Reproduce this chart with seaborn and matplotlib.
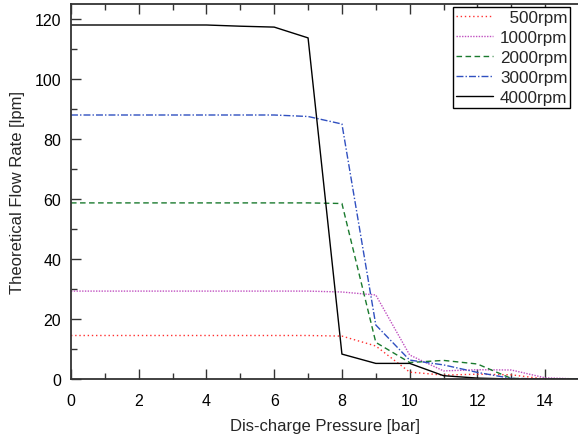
import matplotlib
matplotlib.use("Agg")
import matplotlib.pyplot as plt
import seaborn as sns
import pandas as pd
from matplotlib.ticker import MultipleLocator

pressure = [0, 1, 2, 3, 4, 5, 6, 7, 8, 9, 10, 11, 12, 13, 14, 15]
flow_500 = [14.5, 14.5, 14.5, 14.5, 14.5, 14.5, 14.5, 14.5, 14.3, 11.0, 2.3, 1.3, 1.6, 1.4, 0.0, 0.0]
flow_1000 = [29.3, 29.3, 29.3, 29.3, 29.3, 29.3, 29.3, 29.3, 29.0, 28.0, 8.0, 2.7, 3.1, 3.0, 0.4, 0.0]
flow_2000 = [58.7, 58.7, 58.7, 58.7, 58.7, 58.7, 58.7, 58.7, 58.5, 12.2, 5.5, 6.2, 5.0, 0.2, 0.0, 0.0]
flow_3000 = [88.0, 88.0, 88.0, 88.0, 88.0, 88.0, 88.0, 87.5, 85.0, 18.0, 6.3, 4.7, 2.2, 0.2, 0.0, 0.0]
flow_4000 = [118.0, 118.0, 118.0, 118.0, 118.0, 117.6, 117.3, 113.7, 8.3, 5.2, 5.2, 1.1, 0.3, 0.0, 0.0, 0.0]

labels = ["500rpm", "1000rpm", "2000rpm", "3000rpm", "4000rpm"]
series = [flow_500, flow_1000, flow_2000, flow_3000, flow_4000]
colors = ["#ff3030", "#c050c0", "#1a7a2e", "#3050c0", "#000000"]
styles = [(0, (1, 2)), (0, (1, 1)), (0, (4, 2.5)), (0, (5, 1.5, 1, 1.5)), "-"]
pads = ["  ", "", "", "", ""]

sns.set_theme(style="ticks")
plt.rcParams["font.family"] = ["Liberation Sans", "DejaVu Sans"]
plt.rcParams["font.size"] = 11

fig = plt.figure(figsize=(5.78, 4.39), dpi=100)
ax = fig.add_axes([71 / 578, 1 - 380 / 439, (579 - 71) / 578, (380 - 5) / 439])

for lab, vals, col, ls, pad in zip(labels, series, colors, styles, pads):
    df = pd.DataFrame({"p": pressure, "q": vals})
    sns.lineplot(data=df, x="p", y="q", ax=ax, color=col, linestyle=ls,
                 linewidth=1.0, label=pad + lab)

ax.set_xlim(0, 15)
ax.set_ylim(0, 125)
ax.xaxis.set_major_locator(MultipleLocator(2))
ax.xaxis.set_minor_locator(MultipleLocator(1))
ax.yaxis.set_major_locator(MultipleLocator(20))
ax.yaxis.set_minor_locator(MultipleLocator(10))
ax.tick_params(which="both", direction="in", top=True, right=False, colors="#333333",
               labelcolor="black", labelsize=11.5, width=1.0)
ax.tick_params(which="major", length=7)
ax.tick_params(which="minor", length=4)
ax.tick_params(axis="x", which="major", pad=10)
ax.tick_params(axis="y", which="major", pad=7)
for s in ax.spines.values():
    s.set_linewidth(1.3)
    s.set_color("#333333")
ax.spines["right"].set_visible(False)

ax.set_xlabel("Dis-charge Pressure [bar]", fontsize=12, labelpad=7)
ax.set_ylabel("Theoretical Flow Rate [lpm]", fontsize=12, labelpad=7)

leg = ax.legend(loc="upper right", bbox_to_anchor=(570 / 578, 1 - 8 / 439),
                bbox_transform=fig.transFigure, fontsize=12.3, frameon=True,
                fancybox=False, edgecolor="black", framealpha=1,
                handlelength=2.15, labelspacing=0.3, borderpad=0.15,
                handletextpad=0.42, borderaxespad=0)
leg.get_frame().set_linewidth(1.0)

fig.savefig("out.png", dpi=100)
